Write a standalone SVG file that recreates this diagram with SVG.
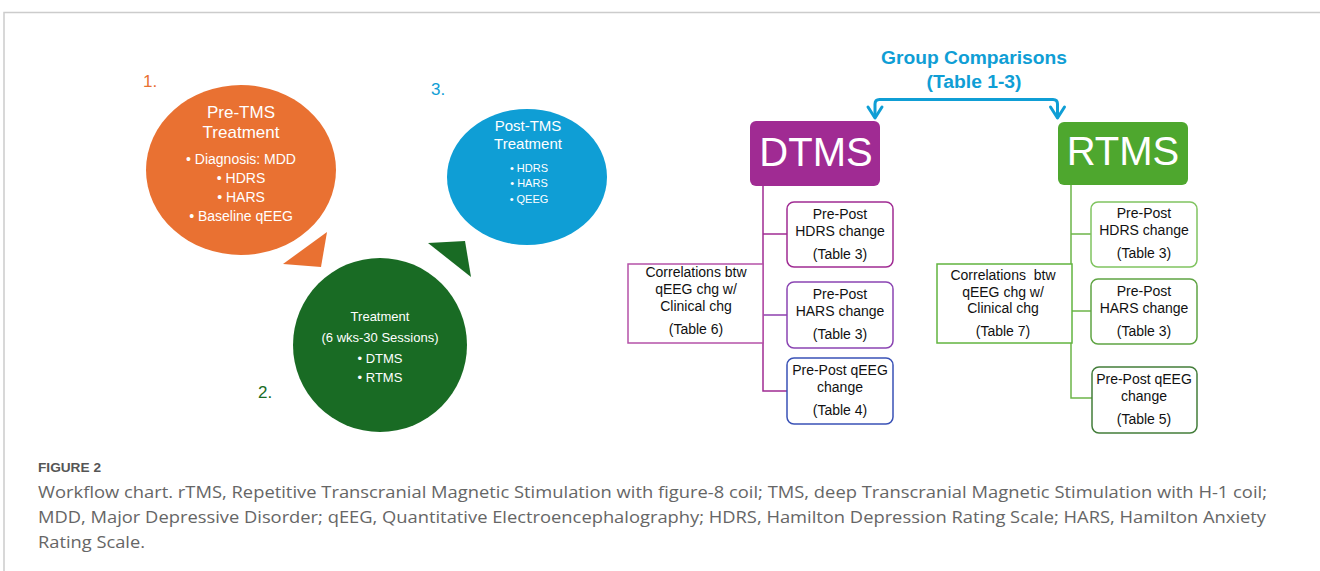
<svg xmlns="http://www.w3.org/2000/svg" width="1320" height="571" viewBox="0 0 1320 571">
<style>
  text { font-family: "Liberation Sans", Arial, sans-serif; }
  .w { fill: #ffffff; text-anchor: middle; }
  .k { fill: #111111; text-anchor: middle; font-size: 14px; }
  .num { font-size: 17px; }
  .cap { font-family: "Open Sans", "Liberation Sans", sans-serif; fill: #666666; font-size: 17px; }
  .box { fill: #ffffff; stroke-width: 1.5; }
  .ln { fill: none; stroke-width: 1.5; }
  .big { fill: #ffffff; text-anchor: middle; font-size: 40px; }
  .gc { fill: #0F9ED5; font-weight: bold; font-size: 18px; text-anchor: middle; }
  .blue { fill: none; stroke: #0F9ED5; stroke-width: 3; stroke-linecap: round; stroke-linejoin: round; }
</style>
<rect width="1320" height="571" fill="#ffffff"/>
<path d="M4 571 V12.5 H1320" fill="none" stroke="#cccccc" stroke-width="1.5"/>

<g id="pre-tms">
  <ellipse cx="241" cy="170" rx="95" ry="85" fill="#E97132"/>
  <polygon points="327,232 283,264 321,267" fill="#E97132"/>
  <text x="143" y="87" class="num" fill="#E97132">1.</text>
  <text x="241" y="118" class="w" font-size="17">Pre-TMS</text>
  <text x="241" y="138" class="w" font-size="17">Treatment</text>
  <text x="241" y="164" class="w" font-size="14">• Diagnosis: MDD</text>
  <text x="241" y="183" class="w" font-size="14">• HDRS</text>
  <text x="241" y="202" class="w" font-size="14">• HARS</text>
  <text x="241" y="221" class="w" font-size="14">• Baseline qEEG</text>
</g>

<g id="treatment">
  <ellipse cx="380" cy="345" rx="87" ry="87" fill="#196B24"/>
  <polygon points="428,243 465,241 471,277" fill="#196B24"/>
  <text x="258" y="398" class="num" fill="#196B24">2.</text>
  <text x="380" y="321" class="w" font-size="13">Treatment</text>
  <text x="380" y="342" class="w" font-size="13">(6 wks-30 Sessions)</text>
  <text x="380" y="363" class="w" font-size="13">• DTMS</text>
  <text x="380" y="382" class="w" font-size="13">• RTMS</text>
</g>

<g id="post-tms">
  <ellipse cx="527" cy="177" rx="80" ry="68" fill="#0F9ED5"/>
  <text x="431" y="95" class="num" fill="#0F9ED5">3.</text>
  <text x="528" y="131" class="w" font-size="15">Post-TMS</text>
  <text x="528" y="149" class="w" font-size="15">Treatment</text>
  <text x="529" y="172" class="w" font-size="11">• HDRS</text>
  <text x="529" y="187" class="w" font-size="11">• HARS</text>
  <text x="529" y="203" class="w" font-size="11">• QEEG</text>
</g>

<g id="group-comparisons">
  <text x="974" y="64" class="gc" textLength="186" lengthAdjust="spacingAndGlyphs">Group Comparisons</text>
  <text x="974" y="88" class="gc" textLength="95" lengthAdjust="spacingAndGlyphs">(Table 1-3)</text>
</g>

<g id="dtms">
  <rect x="750" y="121" width="130" height="65" rx="6" fill="#A02B93"/>
  <text x="816" y="166" class="big">DTMS</text>
</g>
<g id="rtms">
  <rect x="1058" y="122" width="130" height="63" rx="6" fill="#4EA72E"/>
  <text x="1123" y="165" class="big">RTMS</text>
</g>

<g id="connectors">
  <path class="blue" d="M875 117 V104 Q875 99.5 879.5 99.5 H1053 Q1057.5 99.5 1057.5 104 V117"/>
  <path class="blue" d="M868 107 L875 118 L882 107"/>
  <path class="blue" d="M1050.5 107 L1057.5 118 L1064.5 107"/>
  <path class="ln" d="M763 186 V391 H787" stroke="#A02B93"/>
  <path class="ln" d="M763 234 H787" stroke="#A02B93"/>
  <path class="ln" d="M763 315 H787" stroke="#8E3FAE"/>
  <path class="ln" d="M1071 185 V398 H1092" stroke="#6CB548"/>
  <path class="ln" d="M1071 234 H1091" stroke="#6CB548"/>
  <path class="ln" d="M1071 311 H1091" stroke="#6CB548"/>
</g>

<g id="dtms-hdrs">
  <rect class="box" x="787" y="202" width="106" height="65" rx="7" stroke="#A02B93"/>
  <text class="k" x="840" y="219">Pre-Post</text>
  <text class="k" x="840" y="236">HDRS change</text>
  <text class="k" x="840" y="259">(Table 3)</text>
</g>
<g id="dtms-hars">
  <rect class="box" x="787" y="282" width="106" height="66" rx="7" stroke="#8A44B2"/>
  <text class="k" x="840" y="299">Pre-Post</text>
  <text class="k" x="840" y="316">HARS change</text>
  <text class="k" x="840" y="339">(Table 3)</text>
</g>
<g id="dtms-qeeg">
  <rect class="box" x="787" y="358" width="106" height="66" rx="7" stroke="#3A52B6"/>
  <text class="k" x="840" y="375">Pre-Post qEEG</text>
  <text class="k" x="840" y="392">change</text>
  <text class="k" x="840" y="415">(Table 4)</text>
</g>
<g id="dtms-corr">
  <rect class="box" x="628" y="264" width="135" height="79" stroke="#B552A8"/>
  <text class="k" x="696" y="277">Correlations btw</text>
  <text class="k" x="696" y="294">qEEG chg w/</text>
  <text class="k" x="696" y="311">Clinical chg</text>
  <text class="k" x="696" y="334">(Table 6)</text>
</g>

<g id="rtms-hdrs">
  <rect class="box" x="1091" y="202" width="106" height="65" rx="7" stroke="#80C460"/>
  <text class="k" x="1144" y="218">Pre-Post</text>
  <text class="k" x="1144" y="235">HDRS change</text>
  <text class="k" x="1144" y="258">(Table 3)</text>
</g>
<g id="rtms-hars">
  <rect class="box" x="1091" y="279" width="106" height="65" rx="7" stroke="#5FA443"/>
  <text class="k" x="1144" y="296">Pre-Post</text>
  <text class="k" x="1144" y="313">HARS change</text>
  <text class="k" x="1144" y="336">(Table 3)</text>
</g>
<g id="rtms-qeeg">
  <rect class="box" x="1092" y="367" width="105" height="66" rx="7" stroke="#437D3A"/>
  <text class="k" x="1144" y="384">Pre-Post qEEG</text>
  <text class="k" x="1144" y="401">change</text>
  <text class="k" x="1144" y="424">(Table 5)</text>
</g>
<g id="rtms-corr">
  <rect class="box" x="937" y="264" width="135" height="79" stroke="#62B43F"/>
  <text class="k" x="1003" y="280" xml:space="preserve">Correlations  btw</text>
  <text class="k" x="1003" y="297">qEEG chg w/</text>
  <text class="k" x="1003" y="313">Clinical chg</text>
  <text class="k" x="1003" y="336">(Table 7)</text>
</g>

<g id="caption">
  <text x="38" y="472" font-family="'Open Sans', 'Liberation Sans', sans-serif" font-size="13" font-weight="600" fill="#555555" textLength="63" lengthAdjust="spacingAndGlyphs">FIGURE 2</text>
  <text class="cap" x="38" y="498" textLength="1229" lengthAdjust="spacingAndGlyphs">Workflow chart. rTMS, Repetitive Transcranial Magnetic Stimulation with figure-8 coil; TMS, deep Transcranial Magnetic Stimulation with H-1 coil;</text>
  <text class="cap" x="38" y="523" textLength="1228" lengthAdjust="spacingAndGlyphs">MDD, Major Depressive Disorder; qEEG, Quantitative Electroencephalography; HDRS, Hamilton Depression Rating Scale; HARS, Hamilton Anxiety</text>
  <text class="cap" x="38" y="548" textLength="107" lengthAdjust="spacingAndGlyphs">Rating Scale.</text>
</g>
</svg>
